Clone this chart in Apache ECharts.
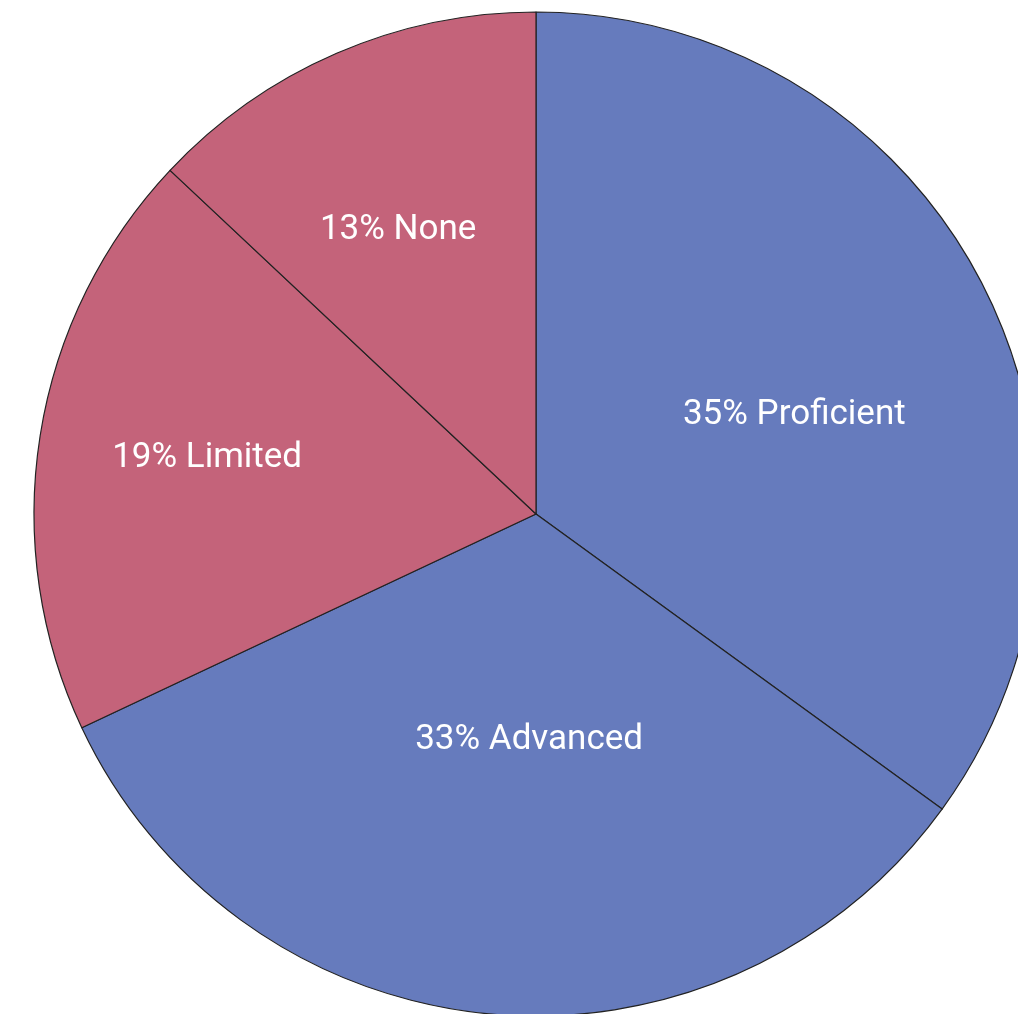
<!DOCTYPE html>
<html>
<head>
<meta charset="utf-8">
<script src="https://cdn.jsdelivr.net/npm/echarts@6/dist/echarts.min.js"></script>
<style>
  html, body { margin: 0; padding: 0; background: #fff; }
  #chart { width: 1018px; height: 1014px; }
</style>
</head>
<body>
<div id="chart"></div>
<script>
// 数据
const categories = ['Proficient', 'Advanced', 'Limited', 'None'];
const percents = [35, 33, 19, 13];
const colors = ['#667bbd', '#667bbd', '#c4637a', '#c4637a'];
// label nudges so text sits where the original put it
const labelOffsets = [[32, 17], [17, -27], [-78, -16], [-37, -51]];

const chart = echarts.init(document.getElementById('chart'));

const option = {
  animation: false,
  series: [
    {
      type: 'pie',
      center: [536, 514],
      radius: 502,
      startAngle: 90,
      clockwise: true,
      avoidLabelOverlap: false,
      emphasis: { disabled: true },
      itemStyle: {
        borderColor: '#222',
        borderWidth: 1.2,
      },
      label: {
        show: true,
        position: 'inside',
        color: '#fff',
        fontFamily: 'Roboto',
        fontSize: 35,
        formatter: (p) => p.value + '% ' + p.name,
      },
      labelLine: { show: false },
      data: categories.map((name, i) => ({
        name: name,
        value: percents[i],
        itemStyle: { color: colors[i] },
        label: { offset: labelOffsets[i] },
      })),
    },
  ],
};

chart.setOption(option);
</script>
</body>
</html>
